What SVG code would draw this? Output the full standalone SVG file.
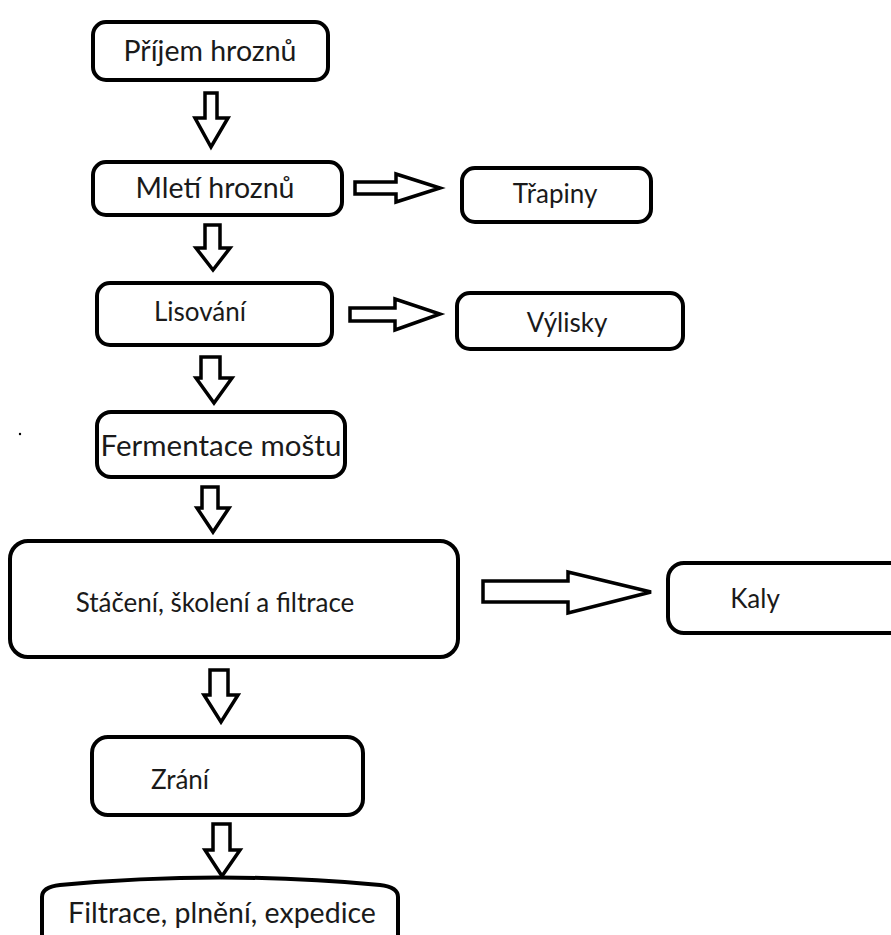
<svg xmlns="http://www.w3.org/2000/svg" width="891" height="935" viewBox="0 0 891 935">
<style>
.box{fill:#fff;stroke:#000;stroke-width:4}
.arr{fill:#fff;stroke:#000;stroke-width:3.5;stroke-linejoin:miter}
text{font-family:Lato,"Liberation Sans",sans-serif;font-size:26px;fill:#1a1a1a;text-anchor:middle}
.lg{font-size:28.5px}
</style>
<rect width="891" height="935" fill="#fff"/>
<g id="n1"><rect class="box" x="93" y="22" width="235" height="58" rx="13"/><text class="lg" x="210" y="61">Příjem hroznů</text></g>
<g id="n2"><rect class="box" x="93" y="162" width="249" height="53" rx="13"/><text class="lg" x="215" y="198">Mletí hroznů</text></g>
<g id="n3"><rect class="box" x="462" y="168" width="189" height="54" rx="13"/><text x="555" y="203">Třapiny</text></g>
<g id="n4"><rect class="box" x="97" y="283" width="235" height="62" rx="13"/><text x="200" y="321">Lisování</text></g>
<g id="n5"><rect class="box" x="457" y="293" width="226" height="56" rx="13"/><text x="567" y="332">Výlisky</text></g>
<g id="n6"><rect class="box" x="97" y="412" width="248" height="65" rx="14"/><text class="lg" x="221" y="456" style="font-size:29.5px">Fermentace moštu</text></g>
<g id="n7"><rect class="box" x="10" y="541" width="448" height="116" rx="18"/><text x="215" y="612">Stáčení, školení a filtrace</text></g>
<g id="n8"><rect class="box" x="668" y="563" width="240" height="70" rx="16"/><text x="755" y="608">Kaly</text></g>
<g id="n9"><rect class="box" x="92" y="737" width="271" height="78" rx="16"/><text x="180" y="789">Zrání</text></g>
<g id="n10"><path class="box" d="M42,940 L42,897 Q42,887 60,885 Q220,870 380,885 Q398,887 398,897 L398,940"/><text class="lg" x="222" y="923">Filtrace, plnění, expedice</text></g>
<circle cx="20" cy="434" r="1.2" fill="#000"/>
<g id="connectors">
<path class="arr" d="M205,93 H217 V118 H228 L211,147 L195,118 H205 Z"/>
<path class="arr" d="M205,225 H220 V248 H230 L213,270 L196,248 H205 Z"/>
<path class="arr" d="M201,357 H220 V378 H232 L214,403 L196,378 H201 Z"/>
<path class="arr" d="M202,487 H218 V508 H229 L213,532 L197,508 H202 Z"/>
<path class="arr" d="M210,670 H228 V695 H238 L221,722 L204,695 H210 Z"/>
<path class="arr" d="M213,824 H230 V850 H240 L222,876 L205,850 H213 Z"/>
<path class="arr" d="M355,182 H396 V174 L440,188 L396,202 V194 H355 Z"/>
<path class="arr" d="M350,308 H395 V299 L440,314 L395,330 V321 H350 Z"/>
<path class="arr" d="M483,581 H568 V572 L651,592 L568,613 V602 H483 Z"/>
</g>
</svg>
